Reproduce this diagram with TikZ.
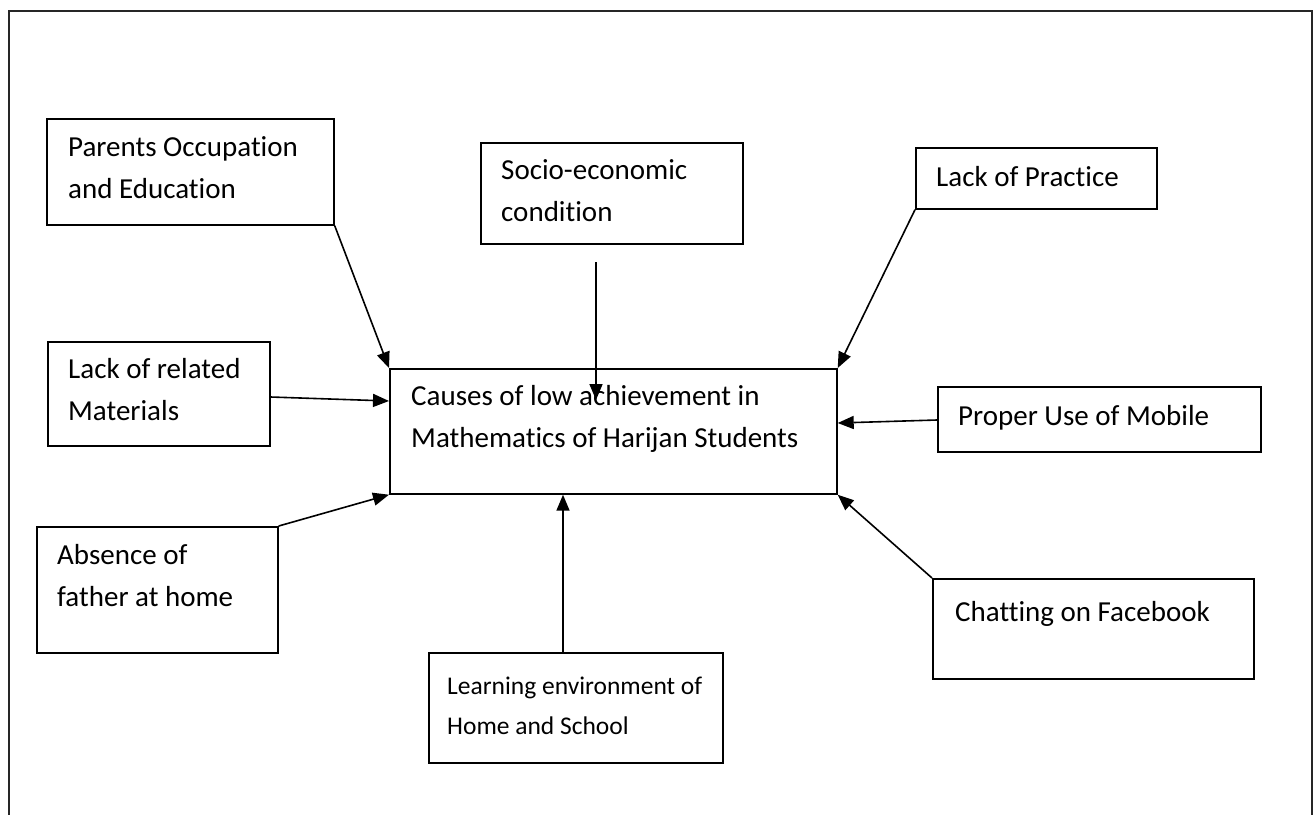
\documentclass[tikz,border=0pt]{standalone}
\usepackage{fontspec}
\setmainfont{Carlito}[Ligatures=NoCommon]
\usetikzlibrary{arrows.meta,calc}
\begin{document}
\begin{tikzpicture}[x=1pt,y=-1pt,
  boxnode/.style={draw=black, line width=1.7pt, rectangle, inner sep=0pt, anchor=north west},
  txt/.style={anchor=base west, inner sep=0pt, align=left, font=\fontsize{29}{42}\selectfont},
  smalltxt/.style={txt, font=\fontsize{25.5}{40}\selectfont},
  arr/.style={draw=black, line width=1.6pt, -{Triangle[length=16pt,width=13pt]}},
]
\useasboundingbox (0,0) rectangle (1316,814);
\draw[line width=2.4pt, draw=black!85] (9,830) -- (9,11) -- (1312,11) -- (1312,830);

% boxes
\node[boxnode, minimum width=287pt, minimum height=106pt] (par) at (46,118) {};
\node[boxnode, minimum width=262pt, minimum height=101pt] (soc) at (480,142) {};
\node[boxnode, minimum width=241pt, minimum height=61pt]  (lop) at (915,147) {};
\node[boxnode, minimum width=222pt, minimum height=104pt] (lrm) at (47,341) {};
\node[boxnode, minimum width=447pt, minimum height=125pt] (main) at (389,368) {};
\node[boxnode, minimum width=323pt, minimum height=65pt]  (pum) at (937,386) {};
\node[boxnode, minimum width=241pt, minimum height=126pt] (abs) at (36,526) {};
\node[boxnode, minimum width=321pt, minimum height=100pt] (cof) at (932,578) {};
\node[boxnode, minimum width=294pt, minimum height=110pt] (len) at (428,652) {};

% texts (anchored at the baseline of the last line)
\node[txt] (parT) at (68,198) {Parents Occupation\\and Education};
\node[txt] (socT) at (501,221) {Socio-economic\\condition};
\node[txt] (lopT) at (936,186) {Lack of Practice};
\node[txt] (lrmT) at (68,420) {Lack of related\\Materials};
\node[txt] (mainT) at (411,447) {Causes of low achievement in\\Mathematics of Harijan Students};
\node[txt] (pumT) at (958,425) {Proper Use of Mobile};
\node[txt] (absT) at (57,606) {Absence of\\father at home};
\node[txt] (cofT) at (955,621) {Chatting on Facebook};
\node[smalltxt] (lenT) at (447,734) {Learning environment of\\Home and School};

% connectors
\coordinate (socs) at (596,262);
\coordinate (soce) at (596,400);
\draw[arr] (par.south east) -- (main.north west);
\draw[arr] (socs) -- (soce);
\draw[arr] (lop.south west) -- (main.north east);
\draw[arr] ($(lrm.north east)+(0,56)$) -- ($(main.north west)+(0,33)$);
\draw[arr] ($(pum.north west)+(0,34)$) -- ($(main.north east)+(0,55)$);
\draw[arr] (abs.north east) -- (main.south west);
\draw[arr] ($(len.north west)+(135,0)$) -- ($(main.south west)+(174,0)$);
\draw[arr] (cof.north west) -- (main.south east);
\end{tikzpicture}
\end{document}
